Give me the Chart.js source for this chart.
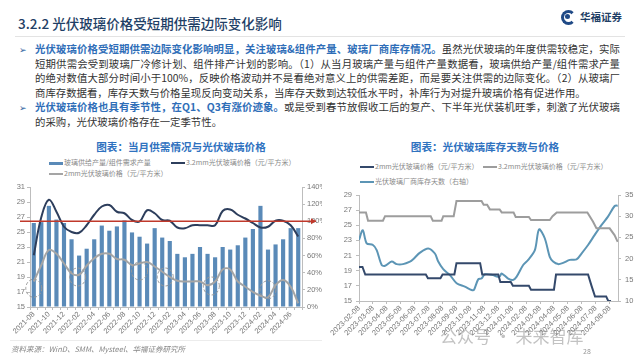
<!DOCTYPE html>
<html>
<head>
<meta charset="utf-8">
<script src="https://cdn.jsdelivr.net/npm/chart.js@4.4.0/dist/chart.umd.min.js"></script>
<style>
  body { margin: 0; width: 640px; height: 360px; position: relative; overflow: hidden; background: #fff;
         font-family: "Noto Sans CJK SC", "Noto Sans", sans-serif; }
  .abs { position: absolute; white-space: nowrap; }
  .title { left: 18px; top: 13px; font-size: 13.5px; color: #1f3f66; font-weight: 500; }
  .hr { position: absolute; height: 1px; background: #e3e3e3; }
  .para { position: absolute; left: 35px; width: 585px; font-size: 10.4px; color: #333; }
  .para div { height: 14.6px; line-height: 14.6px; white-space: nowrap; }
  .para .j { text-align: justify; text-align-last: justify; }
  .para b { color: #2f6eb8; font-weight: 700; }
  .bullet { position: absolute; left: 19px; font-size: 9px; color: #2f5f9e; }
  .ctitle { font-size: 10.6px; font-weight: 700; color: #2f72bf; transform: translateX(-50%); }
  .lg { font-size: 7px; color: #8a8a8a; line-height: 9px; }
  .sw { display: inline-block; width: 14px; vertical-align: middle; margin-right: 1px; }
  canvas { position: absolute; }
</style>
</head>
<body>
<div class="abs title">3.2.2 光伏玻璃价格受短期供需边际变化影响</div>
<div class="abs" style="left:561px;top:10px;width:9px;height:9px;border:3px solid #1f4a86;border-radius:50%;border-right-color:#fff"></div>
<div class="abs" style="left:565px;top:14px;width:5px;height:5px;background:#1f4a86;border-radius:50%"></div>
<div class="abs" style="left:580px;top:9px;font-size:10.5px;font-weight:700;color:#1f3f66">华福证券</div>
<div class="hr" style="left:15px;top:36px;width:610px"></div>

<div class="bullet" style="top:43px">➢</div>
<div class="bullet" style="top:101px">➢</div>
<div class="para" style="top:42px">
  <div class="j"><b>光伏玻璃价格受短期供需边际变化影响明显，关注玻璃&amp;组件产量、玻璃厂商库存情况。</b>虽然光伏玻璃的年度供需较稳定，实际</div>
  <div class="j">短期供需会受到玻璃厂冷修计划、组件排产计划的影响。（1）从当月玻璃产量与组件产量数据看，玻璃供给产量/组件需求产量</div>
  <div class="j">的绝对数值大部分时间小于100%，反映价格波动并不是看绝对意义上的供需差距，而是要关注供需的边际变化。（2）从玻璃厂</div>
  <div>商库存数据看，库存天数与价格呈现反向变动关系，当库存天数到达较低水平时，补库行为对提升玻璃价格有促进作用。</div>
  <div class="j"><b>光伏玻璃价格也具有季节性，在Q1、Q3有涨价迹象。</b>或是受到春节放假收工后的复产、下半年光伏装机旺季，刺激了光伏玻璃</div>
  <div>的采购，光伏玻璃价格存在一定季节性。</div>
</div>

<div class="abs ctitle" style="left:181px;top:139px">图表：当月供需情况与光伏玻璃价格</div>
<div class="abs ctitle" style="left:485px;top:139px">图表：光伏玻璃库存天数与价格</div>

<div class="abs lg" style="left:49px;top:158px"><span class="sw" style="height:3px;background:#5a8ab8"></span>玻璃供给产量/组件需求产量</div>
<div class="abs lg" style="left:171px;top:158px"><span class="sw" style="height:1.5px;background:#2d3e5c"></span>3.2mm光伏玻璃价格（元/平方米）</div>
<div class="abs lg" style="left:49px;top:169px"><span class="sw" style="height:1.5px;background:#a5a5a5"></span>2mm光伏玻璃价格（元/平方米）</div>

<div class="abs lg" style="left:360px;top:162px"><span class="sw" style="height:1.5px;background:#34496b"></span>2mm光伏玻璃价格（元/平方米）</div>
<div class="abs lg" style="left:483px;top:162px"><span class="sw" style="height:1.5px;background:#9d9d9d"></span>3.2mm光伏玻璃价格（元/平方米）</div>
<div class="abs lg" style="left:360px;top:177px"><span class="sw" style="height:1.5px;background:#5c95b5"></span>光伏玻璃厂商库存天数（右轴）</div>

<canvas id="c1" width="322" height="162" style="left:0;top:178px"></canvas>
<canvas id="c2" width="320" height="162" style="left:320px;top:178px"></canvas>

<div class="hr" style="left:10px;top:340px;width:312px;background:#ececec"></div>
<div class="abs" style="left:11px;top:343px;font-size:7.5px;color:#888;font-style:italic">资料来源：WinD、SMM、Mysteel、华福证券研究所</div>
<div class="abs" style="left:583px;top:346px;font-size:7px;color:#999">28</div>
<div class="abs" style="left:440px;top:323px;font-size:17px;color:rgba(120,120,120,0.45)">公众号 · 未来智库</div>

<script>
// left chart: monthly supply/demand ratio and prices
const supplyMonths = ['2021-08','2021-09','2021-10','2021-11','2021-12',
  '2022-01','2022-02','2022-03','2022-04','2022-05','2022-06','2022-07','2022-08','2022-09','2022-10','2022-11','2022-12',
  '2023-01','2023-02','2023-03','2023-04','2023-05','2023-06','2023-07','2023-08','2023-09','2023-10','2023-11','2023-12',
  '2024-01','2024-02','2024-03','2024-04','2024-05','2024-06','2024-07'];
const supplyRatio = [98, 99, 118, 102, 98, 79, 60, 68, 79, 95, 89, 94, 101, 87, 82, 74, 92, 81,
  77, 62, 58, 62, 70, 62, 58, 70, 67, 72, 81, 91, 118, 67, 73, 79, 92, 92];
const price32Monthly = [21.9, 27.0, 29.3, 27.7, 25.7, 25.0, 24.9, 25.9, 27.3, 28.4, 28.6, 27.7, 27.5, 26.6, 26.4, 27.9, 27.5, 26.6,
  26.5, 25.6, 25.5, 25.9, 25.9, 25.9, 25.9, 27.8, 28.0, 27.3, 26.8, 26.2, 25.6, 25.7, 26.5, 26.5, 25.9, 24.4];
const price2Monthly = [18.4, 20.6, 22.6, 22.1, 20.8, 19.5, 19.3, 20.5, 21.5, 22.1, 22.1, 21.4, 21.3, 20.6, 20.8, 21.0, 20.4, 19.7,
  19.0, 18.5, 18.4, 18.4, 18.4, 17.9, 18.4, 20.0, 20.0, 18.4, 17.7, 17.0, 16.5, 16.3, 17.9, 18.6, 17.7, 15.5];
const balanceLine = 100;
// dashed circles round the seasonal troughs of the 2mm price: [month index, price]
const troughMarks = [[0, 17.5], [5.8, 19.0], [14, 19.8], [17.4, 19.0], [23.5, 17.8], [31, 17.3]];

// right chart: weekly prices and inventory days, x = months after 2023-02-08
const invTickLabels = ['2023-02-08','2023-03-08','2023-04-08','2023-05-08','2023-06-08','2023-07-08','2023-08-08',
  '2023-09-08','2023-10-08','2023-11-08','2023-12-08','2024-01-08','2024-02-08','2024-03-08','2024-04-08',
  '2024-05-08','2024-06-08','2024-07-08','2024-08-08'];
const price2Weekly = [[0,19.5],[0.25,19.5],[0.45,18.5],[4.8,18.5],[4.95,18.0],[5.85,18.0],[6.0,18.5],[6.85,18.5],
  [7.0,20.0],[8.7,20.0],[8.85,18.5],[10.0,18.5],[10.15,17.5],[10.9,17.5],[11.05,17.0],[12.2,17.0],[12.35,16.5],
  [14.0,16.5],[14.15,18.5],[16.45,18.5],[16.7,17.0],[16.95,15.6],[17.75,15.6],[17.9,15.0],[18.1,15.0]];
const price32Weekly = [[0,26.7],[0.5,26.7],[0.65,25.6],[1.72,25.6],[1.87,26.2],[5.15,26.2],[5.3,25.6],[5.93,25.6],
  [6.05,26.2],[6.8,26.2],[7.0,28.2],[8.8,28.2],[8.95,27.7],[9.2,27.7],[9.4,27.1],[10.1,27.1],[10.25,26.7],[11.1,26.7],
  [11.25,26.1],[12.2,26.1],[12.35,25.7],[13.7,25.7],[13.9,26.2],[14.2,26.7],[16.4,26.7],[16.8,25.5],[17.05,24.6],
  [17.75,24.6],[18.0,24.6],[18.35,23.7],[18.58,22.8]];
const invDaysWeekly = [[0,24.4],[0.27,26.7],[0.55,23.6],[1.0,23.2],[1.27,22.0],[1.63,18.5],[1.87,18.3],[2.35,19.3],
  [2.7,18.7],[3.16,18.7],[3.66,19.3],[3.87,19.8],[4.38,21.4],[4.97,22.4],[5.45,21.2],[5.69,19.3],[6.05,17.5],
  [6.53,16.1],[7.01,14.2],[7.6,13.4],[8.08,12.6],[8.25,12.6],[8.56,15.1],[8.8,15.3],[9.04,16.3],[9.63,16.1],
  [9.88,15.8],[10.11,15.8],[10.24,16.5],[10.71,15.3],[11.05,14.95],[11.31,15.7],[11.79,18.5],[12.15,19.7],
  [12.63,22.0],[12.93,26.9],[13.34,24.8],[13.7,20.4],[13.94,19.3],[14.3,18.7],[14.66,19.0],[15.14,19.7],
  [15.62,19.8],[15.98,21.2],[16.45,23.2],[16.93,25.6],[17.41,27.9],[17.88,29.9],[18.36,32.4],[18.58,32.5]];

const tickFont = { family: 'Liberation Sans', size: 7.5 };
const tickColor = '#777';
const axisLine = '#bdbdbd';
const toXY = arr => arr.map(([x, y]) => ({ x, y }));

const leftExtras = {
  id: 'leftExtras',
  afterDatasetsDraw(chart) {
    const { ctx, chartArea, scales } = chart;
    const y = scales.y1.getPixelForValue(balanceLine);
    ctx.save();
    ctx.strokeStyle = '#c0392b';
    ctx.lineWidth = 1.5;
    ctx.beginPath();
    ctx.moveTo(chartArea.left - 10, y);
    ctx.lineTo(chartArea.right + 14, y);
    ctx.stroke();
    ctx.fillStyle = '#c0392b';
    ctx.beginPath();
    ctx.moveTo(chartArea.right + 14, y);
    ctx.lineTo(chartArea.right + 9, y - 3);
    ctx.lineTo(chartArea.right + 9, y + 3);
    ctx.closePath();
    ctx.fill();
    // dashed trough circles
    ctx.strokeStyle = '#999';
    ctx.lineWidth = 1;
    ctx.setLineDash([3, 2]);
    troughMarks.forEach(([i, v]) => {
      ctx.beginPath();
      ctx.ellipse(scales.x.getPixelForValue(i), scales.y.getPixelForValue(v), 8, 9, 0, 0, Math.PI * 2);
      ctx.stroke();
    });
    ctx.restore();
  }
};

new Chart(document.getElementById('c1'), {
  type: 'bar',
  data: {
    labels: supplyMonths,
    datasets: [
      { type: 'line', label: '3.2mm光伏玻璃价格（元/平方米）', data: price32Monthly, yAxisID: 'y',
        borderColor: '#2d3e5c', borderWidth: 2, tension: 0.4, pointRadius: 0, order: 0 },
      { type: 'line', label: '2mm光伏玻璃价格（元/平方米）', data: price2Monthly, yAxisID: 'y',
        borderColor: '#a5a5a5', borderWidth: 2, tension: 0.4, pointRadius: 0, order: 0 },
      { label: '玻璃供给产量/组件需求产量', data: supplyRatio, yAxisID: 'y1',
        backgroundColor: '#5a8ab8', barPercentage: 0.55, categoryPercentage: 1, order: 1 }
    ]
  },
  options: {
    responsive: false,
    animation: false,
    layout: { padding: { top: 9 } },
    plugins: { legend: { display: false }, tooltip: { enabled: false } },
    scales: {
      x: {
        grid: { drawOnChartArea: false, tickLength: 3, color: axisLine },
        border: { color: axisLine },
        ticks: { autoSkip: false, maxRotation: 45, minRotation: 45, font: tickFont, color: tickColor, padding: 0,
          callback: (v, i) => (i % 2 === 0 ? supplyMonths[i] : '') },
        afterFit: s => { s.height = 33; }
      },
      y: {
        position: 'left', min: 15, max: 31,
        grid: { drawOnChartArea: false, tickLength: 3, color: axisLine },
        border: { color: axisLine },
        ticks: { stepSize: 2, font: tickFont, color: tickColor, padding: 2 },
        afterFit: s => { s.width = 30; }
      },
      y1: {
        position: 'right', min: 0, max: 140,
        grid: { drawOnChartArea: false, tickLength: 3, color: axisLine },
        border: { color: axisLine },
        ticks: { stepSize: 20, font: tickFont, color: tickColor, padding: 2, callback: v => v + '%' },
        afterFit: s => { s.width = 20; }
      }
    }
  },
  plugins: [leftExtras]
});

new Chart(document.getElementById('c2'), {
  type: 'line',
  data: {
    datasets: [
      { label: '2mm光伏玻璃价格（元/平方米）', data: toXY(price2Weekly), yAxisID: 'y',
        borderColor: '#34496b', borderWidth: 2, pointRadius: 0 },
      { label: '3.2mm光伏玻璃价格（元/平方米）', data: toXY(price32Weekly), yAxisID: 'y',
        borderColor: '#9d9d9d', borderWidth: 2, pointRadius: 0 },
      { label: '光伏玻璃厂商库存天数（右轴）', data: toXY(invDaysWeekly), yAxisID: 'y1',
        borderColor: '#5c95b5', borderWidth: 2, pointRadius: 0, tension: 0.3 }
    ]
  },
  options: {
    responsive: false,
    animation: false,
    layout: { padding: { top: 17 } },
    plugins: { legend: { display: false }, tooltip: { enabled: false } },
    scales: {
      x: {
        type: 'linear', min: 0, max: 18.6,
        grid: { drawOnChartArea: false, tickLength: 3, color: axisLine },
        border: { color: axisLine },
        ticks: { stepSize: 1, includeBounds: false, autoSkip: false, maxRotation: 45, minRotation: 45,
          font: tickFont, color: tickColor, padding: 0,
          callback: v => invTickLabels[v] || '' },
        afterFit: s => { s.height = 39; }
      },
      y: {
        position: 'left', min: 15, max: 29,
        grid: { drawOnChartArea: false, tickLength: 3, color: axisLine },
        border: { color: axisLine },
        ticks: { stepSize: 2, font: tickFont, color: tickColor, padding: 4 },
        afterFit: s => { s.width = 39; }
      },
      y1: {
        position: 'right', min: 10, max: 35,
        grid: { drawOnChartArea: false, tickLength: 3, color: axisLine },
        border: { color: axisLine },
        ticks: { stepSize: 5, font: tickFont, color: tickColor, padding: 4 },
        afterFit: s => { s.width = 22; }
      }
    }
  }
});
</script>
</body>
</html>
